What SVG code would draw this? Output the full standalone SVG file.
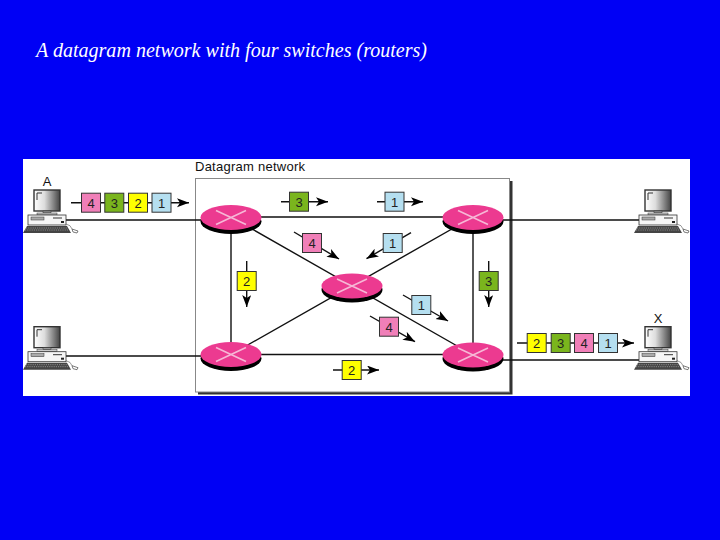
<svg xmlns="http://www.w3.org/2000/svg" xmlns:xlink="http://www.w3.org/1999/xlink" width="720" height="540" viewBox="0 0 720 540">
<style>
.ln{stroke:#111;stroke-width:1.4;fill:none}
.arr{marker-end:url(#ah)}
.pk{stroke:#333;stroke-width:1}
.y{fill:#ffff00}.g{fill:#7ab51d}.p{fill:#f07fb8}.b{fill:#b5dff0}
.n{font:13px "Liberation Sans",Arial,sans-serif;fill:#222;text-anchor:middle}
.lab{font:13px "Liberation Sans",Arial,sans-serif;fill:#111}
</style>
<defs>
<marker id="ah" markerUnits="userSpaceOnUse" markerWidth="13" markerHeight="10" refX="12" refY="4.500" orient="auto"><path d="M0 0L12 4.500L0 9L3 4.500Z" fill="#000"/></marker>
<linearGradient id="scr" x1="0" x2="1" y1="0" y2="0"><stop offset="0" stop-color="#fff"/><stop offset=".4" stop-color="#ddd"/><stop offset="1" stop-color="#444"/></linearGradient>
<g id="router">
<ellipse cx="0" cy="4" rx="30.5" ry="12.5" fill="#000"/>
<ellipse cx="0" cy="0" rx="30.5" ry="12.5" fill="#ec3a90"/>
<path d="M-15 -7L15 7M-15 7L15 -7" stroke="#f6b8d6" stroke-width="1.6"/>
</g>
<g id="pc">
<rect x="34" y="190" width="26" height="21" fill="url(#scr)" stroke="#333" stroke-width="1.4"/>
<path d="M37 200V193H42" stroke="#333" fill="none" stroke-width="1"/>
<rect x="43" y="211" width="8" height="2" fill="#999" stroke="#333" stroke-width=".5"/>
<rect x="37" y="213" width="20" height="2" fill="#ccc" stroke="#333" stroke-width=".5"/>
<rect x="28" y="215" width="38" height="10" fill="#f6f6f6" stroke="#333" stroke-width=".8"/>
<rect x="31" y="217" width="13" height="3" fill="#aaa" stroke="#333" stroke-width=".5"/>
<path d="M53 218H62" stroke="#333" stroke-width="1"/><rect x="61" y="221" width="3" height="2" fill="#222"/>
<path d="M27 226H67L71 233H23Z" fill="#444"/>
<path d="M26 228H68M25 230H69" stroke="#bbb" stroke-width=".6" stroke-dasharray="1.2 1"/>
<path d="M66 224Q71 225 72 229" stroke="#555" stroke-width=".6" fill="none"/>
<path d="M72 229L78 231L77 233L73 232Z" fill="#fff" stroke="#444" stroke-width=".7"/>
</g>
</defs>
<rect width="720" height="540" fill="#0000f5"/>
<text x="36" y="56.500" font-family="'Liberation Serif','Times New Roman',serif" font-style="italic" font-size="20.400" fill="#fff" textLength="391" lengthAdjust="spacingAndGlyphs">A datagram network with four switches (routers)</text>
<rect x="23" y="159" width="667" height="237" fill="#fff"/>
<g id="network">
<rect x="198" y="181" width="314.500" height="213.500" fill="#333"/>
<rect x="195.500" y="178.500" width="314" height="213.500" fill="#fff" stroke="#888" stroke-width="1"/>
<text class="lab" x="195" y="171" textLength="110" lengthAdjust="spacing">Datagram network</text>
</g>
<g id="connectors">
<path class="ln" d="M66 220H201M231 217H473M231 217V354.500M473 217V355M231 354.500H473M66 356H201M500 220H640M500 360H640M231 217L473 355M473 217L231 354.500"/>
</g>
<g id="router-tl"><use href="#router" x="231" y="217.500"/></g>
<g id="router-tr"><use href="#router" x="473" y="217.500"/></g>
<g id="router-c"><use href="#router" x="352" y="286"/></g>
<g id="router-bl"><use href="#router" x="231" y="354.500"/></g>
<g id="router-br"><use href="#router" x="473" y="355"/></g>
<g id="host-a"><use href="#pc"/><text class="lab" x="47" y="186" text-anchor="middle">A</text></g>
<g id="host-bl"><use href="#pc" y="136.700"/></g>
<g id="host-tr"><use href="#pc" x="611"/></g>
<g id="host-x"><use href="#pc" x="611" y="136.700"/><text class="lab" x="658" y="322.500" text-anchor="middle">X</text></g>
<g id="packet-arrows">
<path class="ln arr" d="M71 202.700H189"/>
<path class="ln arr" d="M281 201.700H328"/>
<path class="ln arr" d="M377 201.700H423"/>
<path class="ln arr" d="M294 232L339 259"/>
<path class="ln arr" d="M411 232.700L366.500 258.700"/>
<path class="ln arr" d="M246.700 261V307"/>
<path class="ln arr" d="M488.700 261V307"/>
<path class="ln arr" d="M403 295L448 321"/>
<path class="ln arr" d="M370 316L415 341.700"/>
<path class="ln arr" d="M333 370H379"/>
<path class="ln arr" d="M517 343H634"/>
</g>
<g id="packets-a"><rect class="pk p" x="81.500" y="193.200" width="19" height="19"/><text class="n" x="91" y="207.500">4</text><rect class="pk g" x="104.800" y="193.200" width="19" height="19"/><text class="n" x="114.300" y="207.500">3</text><rect class="pk y" x="128.500" y="193.200" width="19" height="19"/><text class="n" x="138" y="207.500">2</text><rect class="pk b" x="152" y="193.200" width="19" height="19"/><text class="n" x="161.500" y="207.500">1</text></g>
<g id="packets-x"><rect class="pk y" x="527.200" y="333.500" width="19" height="19"/><text class="n" x="536.700" y="347.800">2</text><rect class="pk g" x="551.200" y="333.500" width="19" height="19"/><text class="n" x="560.700" y="347.800">3</text><rect class="pk p" x="574.500" y="333.500" width="19" height="19"/><text class="n" x="584" y="347.800">4</text><rect class="pk b" x="598.500" y="333.500" width="19" height="19"/><text class="n" x="608" y="347.800">1</text></g>
<g id="packet-top-3"><rect class="pk g" x="289.500" y="192.200" width="19" height="19"/><text class="n" x="299" y="206.500">3</text></g>
<g id="packet-top-1"><rect class="pk b" x="385" y="192.200" width="19" height="19"/><text class="n" x="394.500" y="206.500">1</text></g>
<g id="packet-diag-4a"><rect class="pk p" x="302.500" y="233.500" width="19" height="19"/><text class="n" x="312" y="247.800">4</text></g>
<g id="packet-diag-1a"><rect class="pk b" x="383.200" y="233.500" width="19" height="19"/><text class="n" x="392.700" y="247.800">1</text></g>
<g id="packet-left-2"><rect class="pk y" x="237.200" y="271.500" width="19" height="19"/><text class="n" x="246.700" y="285.800">2</text></g>
<g id="packet-right-3"><rect class="pk g" x="479.200" y="271.500" width="19" height="19"/><text class="n" x="488.700" y="285.800">3</text></g>
<g id="packet-diag-1b"><rect class="pk b" x="411.800" y="295.500" width="19" height="19"/><text class="n" x="421.300" y="309.800">1</text></g>
<g id="packet-diag-4b"><rect class="pk p" x="379.500" y="317.200" width="19" height="19"/><text class="n" x="389" y="331.500">4</text></g>
<g id="packet-bottom-2"><rect class="pk y" x="342.200" y="360.500" width="19" height="19"/><text class="n" x="351.700" y="374.800">2</text></g>
</svg>
